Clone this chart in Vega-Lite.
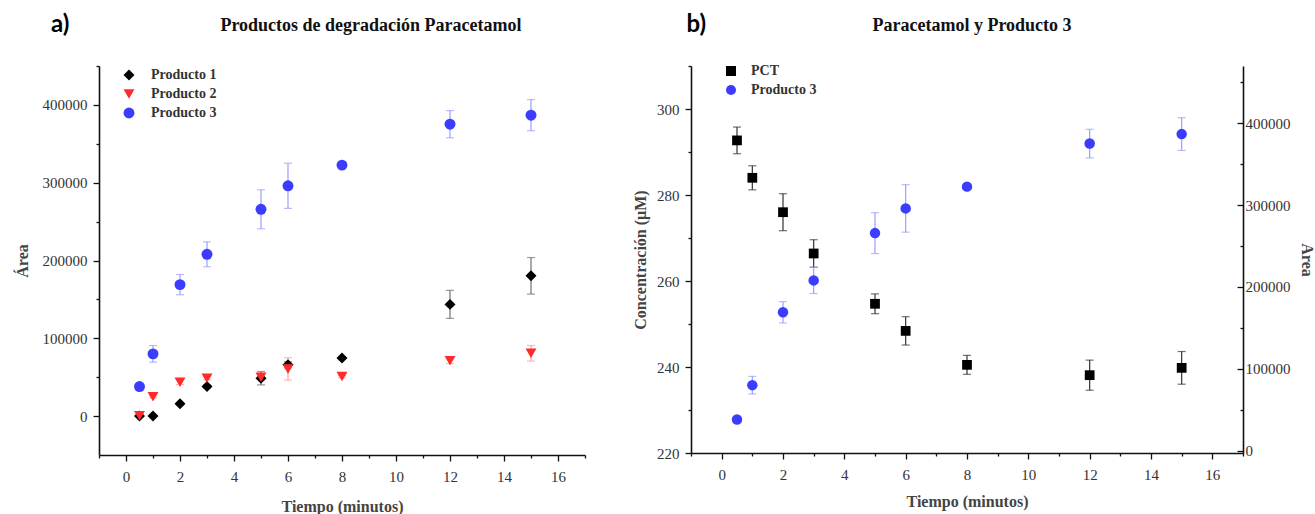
{
  "$schema": "https://vega.github.io/schema/vega-lite/v6.json",
  "background": "white",
  "padding": {"left": 14, "top": 13, "right": 0, "bottom": 0},
  "config": {
    "font": "Liberation Serif",
    "view": {"stroke": null},
    "concat": {"spacing": 46},
    "axis": {
      "grid": false,
      "domainColor": "#111111",
      "domainWidth": 1.6,
      "tickColor": "#111111",
      "tickWidth": 1.3,
      "labelColor": "#333333",
      "labelFont": "Liberation Serif",
      "labelFontSize": 15,
      "titleFont": "Liberation Serif",
      "titleFontSize": 16,
      "titleFontWeight": "bold",
      "titleColor": "#444444",
      "labelOverlap": false,
      "labelFlush": false,
      "labelBound": false
    },
    "legend": {
      "labelFont": "Liberation Serif",
      "labelFontSize": 14,
      "labelFontWeight": "bold",
      "labelColor": "#333333",
      "padding": 0,
      "rowPadding": 5,
      "symbolStrokeWidth": 0,
      "labelOffset": 15
    },
    "title": {"font": "Liberation Serif", "fontSize": 18, "fontWeight": "bold", "color": "#111111"}
  },
  "resolve": {
    "scale": {"color": "independent", "shape": "independent"},
    "legend": {"color": "independent", "shape": "independent"}
  },
  "datasets": {
    "areas": [
      {"t": 0.5, "v": 0, "err": 0, "serie": "Producto 1"},
      {"t": 1, "v": 0, "err": 0, "serie": "Producto 1"},
      {"t": 2, "v": 15800, "err": 1500, "serie": "Producto 1"},
      {"t": 3, "v": 38000, "err": 2000, "serie": "Producto 1"},
      {"t": 5, "v": 48700, "err": 8600, "serie": "Producto 1"},
      {"t": 6, "v": 66000, "err": 4000, "serie": "Producto 1"},
      {"t": 8, "v": 74800, "err": 1500, "serie": "Producto 1"},
      {"t": 12, "v": 143600, "err": 18000, "serie": "Producto 1"},
      {"t": 15, "v": 180300, "err": 23500, "serie": "Producto 1"},
      {"t": 0.5, "v": 500, "err": 0, "serie": "Producto 2"},
      {"t": 1, "v": 24800, "err": 1500, "serie": "Producto 2"},
      {"t": 2, "v": 43600, "err": 3000, "serie": "Producto 2"},
      {"t": 3, "v": 48700, "err": 2000, "serie": "Producto 2"},
      {"t": 5, "v": 50000, "err": 3000, "serie": "Producto 2"},
      {"t": 6, "v": 60600, "err": 14400, "serie": "Producto 2"},
      {"t": 8, "v": 50800, "err": 1500, "serie": "Producto 2"},
      {"t": 12, "v": 71000, "err": 3500, "serie": "Producto 2"},
      {"t": 15, "v": 80800, "err": 10000, "serie": "Producto 2"},
      {"t": 0.5, "v": 38000, "err": 1500, "serie": "Producto 3"},
      {"t": 1, "v": 80000, "err": 10700, "serie": "Producto 3"},
      {"t": 2, "v": 169000, "err": 13000, "serie": "Producto 3"},
      {"t": 3, "v": 208000, "err": 16000, "serie": "Producto 3"},
      {"t": 5, "v": 265800, "err": 25000, "serie": "Producto 3"},
      {"t": 6, "v": 296000, "err": 29000, "serie": "Producto 3"},
      {"t": 8, "v": 322600, "err": 2500, "serie": "Producto 3"},
      {"t": 12, "v": 375200, "err": 17500, "serie": "Producto 3"},
      {"t": 15, "v": 386800, "err": 20000, "serie": "Producto 3"}
    ],
    "pct": [
      {"t": 0.5, "c": 292.7, "err": 3.1, "serie": "PCT"},
      {"t": 1, "c": 284.0, "err": 2.8, "serie": "PCT"},
      {"t": 2, "c": 276.0, "err": 4.3, "serie": "PCT"},
      {"t": 3, "c": 266.4, "err": 3.2, "serie": "PCT"},
      {"t": 5, "c": 254.7, "err": 2.3, "serie": "PCT"},
      {"t": 6, "c": 248.4, "err": 3.3, "serie": "PCT"},
      {"t": 8, "c": 240.5, "err": 2.2, "serie": "PCT"},
      {"t": 12, "c": 238.1, "err": 3.5, "serie": "PCT"},
      {"t": 15, "c": 239.8, "err": 3.8, "serie": "PCT"}
    ]
  },
  "hconcat": [
    {
      "title": {"text": "a)", "font": "Lato", "fontSize": 24, "fontWeight": "bold", "color": "#000000", "anchor": "start", "frame": "bounds", "dx": 37, "dy": 20, "offset": 0},
      "vconcat": [
        {
          "width": 486,
          "height": 389,
          "title": {"text": "Productos de degradación Paracetamol", "anchor": "middle", "frame": "group", "dx": 29, "offset": 24},
          "data": {"name": "areas"},
          "encoding": {
            "x": {
              "field": "t", "type": "quantitative",
              "scale": {"domain": [-1, 17], "nice": false, "zero": false},
              "axis": {
                "title": "Tiempo (minutos)",
                "values": [-1, 0, 1, 2, 3, 4, 5, 6, 7, 8, 9, 10, 11, 12, 13, 14, 15, 16, 17],
                "labelExpr": "datum.value >= 0 && datum.value % 2 === 0 ? datum.label : ''",
                "tickSize": {"condition": {"test": "datum.value % 2 === 0", "value": 6}, "value": 3},
                "labelPadding": 8,
                "titlePadding": 14
              }
            },
            "y": {
              "field": "v", "type": "quantitative",
              "scale": {"domain": [-50000, 450000], "nice": false, "zero": false},
              "axis": {
                "title": "Área",
                "format": "d",
                "values": [0, 50000, 100000, 150000, 200000, 250000, 300000, 350000, 400000, 450000],
                "labelExpr": "datum.value <= 400000 && datum.value % 100000 === 0 ? datum.label : ''",
                "tickSize": {"condition": {"test": "datum.value % 100000 === 0", "value": 6}, "value": 3},
                "labelPadding": 6,
                "titlePadding": 12
              }
            }
          },
          "layer": [
            {
              "transform": [{"filter": "datum.serie === 'Producto 1'"}],
              "mark": {"type": "errorbar", "ticks": {"size": 8}, "thickness": 1.2, "color": "#707070"},
              "encoding": {"yError": {"field": "err"}}
            },
            {
              "transform": [{"filter": "datum.serie === 'Producto 2'"}],
              "mark": {"type": "errorbar", "ticks": {"size": 8}, "thickness": 1.2, "color": "#ff9a9a"},
              "encoding": {"yError": {"field": "err"}}
            },
            {
              "transform": [{"filter": "datum.serie === 'Producto 3'"}],
              "mark": {"type": "errorbar", "ticks": {"size": 8}, "thickness": 1.2, "color": "#9c9cff"},
              "encoding": {"yError": {"field": "err"}}
            },
            {
              "mark": {"type": "point", "filled": true, "opacity": 1, "size": 120},
              "encoding": {
                "color": {
                  "field": "serie", "type": "nominal",
                  "scale": {"domain": ["Producto 1", "Producto 2", "Producto 3"], "range": ["#000000", "#ff2a2a", "#3c3cff"]},
                  "legend": {"title": null, "orient": "none", "legendX": 23, "legendY": 2, "symbolSize": 120}
                },
                "shape": {
                  "field": "serie", "type": "nominal",
                  "scale": {"domain": ["Producto 1", "Producto 2", "Producto 3"], "range": ["diamond", "triangle-down", "circle"]},
                  "legend": {"title": null, "orient": "none", "legendX": 23, "legendY": 2, "symbolSize": 120}
                }
              }
            }
          ]
        }
      ]
    },
    {
      "title": {"text": "b)", "font": "Lato", "fontSize": 24, "fontWeight": "bold", "color": "#000000", "anchor": "start", "frame": "bounds", "dx": 54, "dy": 20, "offset": 0},
      "vconcat": [
        {
          "width": 552,
          "height": 387,
          "title": {"text": "Paracetamol y Producto 3", "anchor": "middle", "frame": "group", "dx": 5, "offset": 24},
          "encoding": {
            "x": {
              "field": "t", "type": "quantitative",
              "scale": {"domain": [-1, 17], "nice": false, "zero": false},
              "axis": {
                "title": "Tiempo (minutos)",
                "values": [-1, 0, 1, 2, 3, 4, 5, 6, 7, 8, 9, 10, 11, 12, 13, 14, 15, 16, 17],
                "labelExpr": "datum.value >= 0 && datum.value % 2 === 0 ? datum.label : ''",
                "tickSize": {"condition": {"test": "datum.value % 2 === 0", "value": 6}, "value": 3},
                "labelPadding": 8,
                "titlePadding": 11
              }
            }
          },
          "layer": [
            {
              "data": {"name": "pct"},
              "encoding": {
                "y": {
                  "field": "c", "type": "quantitative",
                  "scale": {"domain": [220, 310], "nice": false, "zero": false},
                  "axis": {
                    "title": "Concentración (µM)",
                    "values": [220, 230, 240, 250, 260, 270, 280, 290, 300, 310],
                    "labelExpr": "datum.value <= 300 && datum.value % 20 === 0 ? datum.label : ''",
                    "tickSize": {"condition": {"test": "datum.value % 20 === 0", "value": 6}, "value": 3},
                    "labelPadding": 6,
                    "titlePadding": 8
                  }
                }
              },
              "layer": [
                {
                  "mark": {"type": "errorbar", "ticks": {"size": 8}, "thickness": 1.2, "color": "#333333"},
                  "encoding": {"yError": {"field": "err"}}
                },
                {
                  "mark": {"type": "point", "filled": true, "opacity": 1, "size": 95},
                  "encoding": {
                    "color": {"field": "serie", "type": "nominal", "scale": {"domain": ["PCT", "Producto 3"], "range": ["#000000", "#3c3cff"]}, "legend": {"title": null, "orient": "none", "legendX": 33, "legendY": -2, "symbolSize": 100, "labelOffset": 13}},
                    "shape": {"field": "serie", "type": "nominal", "scale": {"domain": ["PCT", "Producto 3"], "range": ["square", "circle"]}, "legend": {"title": null, "orient": "none", "legendX": 33, "legendY": -2, "symbolSize": 100, "labelOffset": 13}}
                  }
                }
              ]
            },
            {
              "data": {"name": "areas"},
              "transform": [{"filter": "datum.serie === 'Producto 3'"}],
              "encoding": {
                "y": {
                  "field": "v", "type": "quantitative",
                  "scale": {"domain": [-2900, 470000], "nice": false, "zero": false},
                  "axis": {
                    "orient": "right",
                    "title": "Área",
                    "format": "d",
                    "values": [0, 50000, 100000, 150000, 200000, 250000, 300000, 350000, 400000, 450000],
                    "labelExpr": "datum.value <= 400000 && datum.value % 100000 === 0 ? datum.label : ''",
                    "tickSize": {"condition": {"test": "datum.value % 100000 === 0", "value": -6}, "value": -3},
                    "labelPadding": 8,
                    "titlePadding": 8
                  }
                }
              },
              "layer": [
                {
                  "mark": {"type": "errorbar", "ticks": {"size": 8}, "thickness": 1.2, "color": "#9c9cff"},
                  "encoding": {"yError": {"field": "err"}}
                },
                {
                  "mark": {"type": "point", "filled": true, "opacity": 1, "size": 110},
                  "encoding": {
                    "color": {"field": "serie", "type": "nominal", "scale": {"domain": ["PCT", "Producto 3"], "range": ["#000000", "#3c3cff"]}, "legend": {"title": null, "orient": "none", "legendX": 33, "legendY": -2, "symbolSize": 100, "labelOffset": 13}},
                    "shape": {"field": "serie", "type": "nominal", "scale": {"domain": ["PCT", "Producto 3"], "range": ["square", "circle"]}, "legend": {"title": null, "orient": "none", "legendX": 33, "legendY": -2, "symbolSize": 100, "labelOffset": 13}}
                  }
                }
              ]
            }
          ],
          "resolve": {"scale": {"y": "independent"}}
        }
      ]
    }
  ]
}
